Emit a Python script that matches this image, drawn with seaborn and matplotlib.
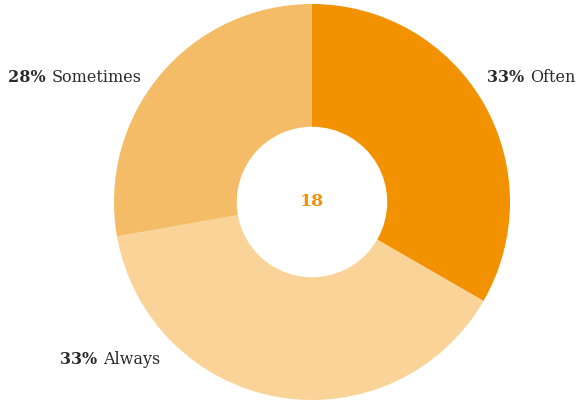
import matplotlib
matplotlib.use("Agg")
import matplotlib.pyplot as plt
import seaborn as sns

# Survey answers (counts) and their printed labels
categories = ["Often", "Always", "Sometimes"]
counts = [6, 7, 5]
pct_labels = ["33%", "33%", "28%"]
colors = ["#F29200", "#F9D398", "#F5BC67"]
total_label = str(sum(counts))

sns.set_theme(style="white")
plt.rcParams["font.family"] = ["DejaVu Serif"]

fig = plt.figure(figsize=(5.76, 4.04), dpi=100)
ax = fig.add_axes([0, 0, 1, 1])

cx, cy, r = 312, 202, 198
ax.pie(counts, colors=colors, startangle=90, counterclock=False,
       center=(cx, cy), radius=r, frame=True,
       wedgeprops=dict(width=r * 0.62, linewidth=0))
ax.set_xlim(0, 576)
ax.set_ylim(0, 404)
ax.set_aspect("equal")
ax.axis("off")

ax.text(cx, cy, total_label, ha="center", va="center", fontsize=12.5,
        fontweight="bold", color="#F29200")

label_pos = {"Often": (487, 326),
             "Always": (60, 45),
             "Sometimes": (8, 327)}
fig.canvas.draw()
for cat, pct in zip(categories, pct_labels):
    x, y = label_pos[cat]
    t1 = ax.text(x, y, pct + " ", ha="left", va="center", fontsize=11.5,
                 fontweight="bold", color="#2b2b2b")
    fig.canvas.draw()
    bb = t1.get_window_extent().transformed(ax.transData.inverted())
    ax.text(bb.x1, y, cat, ha="left", va="center", fontsize=11.5,
            color="#2b2b2b")

fig.savefig("out.png", dpi=100)
